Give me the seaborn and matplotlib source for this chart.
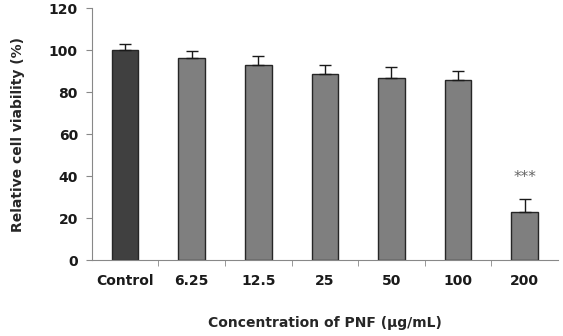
import seaborn as sns
import pandas as pd
import numpy as np
from matplotlib import pyplot as plt

# concentrations of PNF and measured viability
labels = ["Control", "6.25", "12.5", "25", "50", "100", "200"]
viability = [100, 96, 93, 88.6, 86.7, 85.7, 23.1]
sd = [3, 3.5, 4.4, 4.3, 5.0, 4.4, 6.2]
colors = ["#404040", "#7f7f7f", "#7f7f7f", "#7f7f7f", "#7f7f7f", "#7f7f7f", "#7f7f7f"]

df = pd.DataFrame({"conc": labels, "viability": viability})

sns.set_style("white")
plt.rcParams["font.family"] = ["DejaVu Sans"]
plt.rcParams["text.color"] = "#1a1a1a"
plt.rcParams["xtick.labelcolor"] = "#1a1a1a"
plt.rcParams["ytick.labelcolor"] = "#1a1a1a"

fig = plt.figure(figsize=(5.63, 3.36), dpi=100)
ax = fig.add_axes([0.163, 0.226, 0.828, 0.75])

sns.barplot(x="conc", y="viability", data=df, hue="conc", palette=colors,
            legend=False, width=0.4, edgecolor="#262626", linewidth=1, ax=ax)

# one-sided error bars (upper only)
ax.errorbar(range(len(labels)), viability, yerr=[np.zeros(len(sd)), sd],
            fmt="none", ecolor="#1a1a1a", elinewidth=1, capsize=4, capthick=1)

ax.text(6, 39.5, "***", ha="center", va="center", fontsize=11, color="#666666")

ax.set_ylim(0, 120)
ax.set_yticks(range(0, 121, 20))
ax.set_xlim(-0.5, 6.5)
ax.set_xticks(range(len(labels)))
ax.set_xticklabels(labels, fontsize=10, fontweight="bold")
ax.set_xticks(np.arange(0.5, 6, 1), minor=True)
ax.tick_params(axis="x", which="major", length=0, pad=10)
ax.tick_params(axis="x", which="minor", length=4, direction="out", color="#888888", bottom=True)
ax.tick_params(axis="y", length=4, direction="out", color="#888888", left=True, labelsize=10, pad=6)
for t in ax.get_yticklabels():
    t.set_fontweight("bold")

ax.set_xlabel("Concentration of PNF (μg/mL)", fontsize=10, fontweight="bold", labelpad=20)
ax.set_ylabel("Relative cell viability (%)", fontsize=10, fontweight="bold", labelpad=17)

for s in ["top", "right"]:
    ax.spines[s].set_visible(False)
ax.spines["left"].set_color("#888888")
ax.spines["bottom"].set_color("#888888")

fig.savefig("out.png", dpi=100)
